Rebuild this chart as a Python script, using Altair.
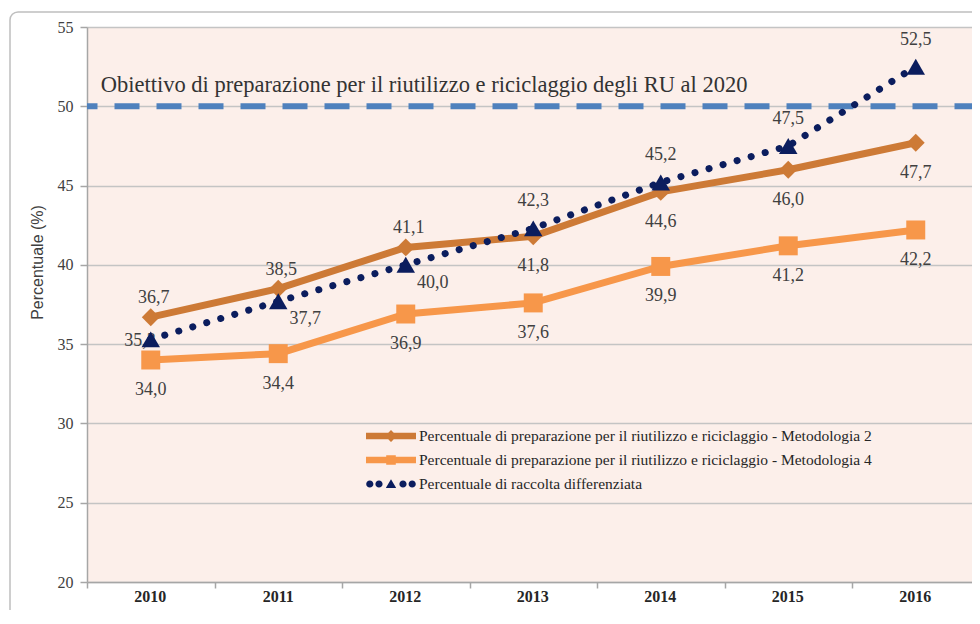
import altair as alt
import pandas as pd

years = ["2010", "2011", "2012", "2013", "2014", "2015", "2016"]
met2 = [36.7, 38.5, 41.1, 41.8, 44.6, 46.0, 47.7]
met4 = [34.0, 34.4, 36.9, 37.6, 39.9, 41.2, 42.2]
rd = [35.3, 37.7, 40.0, 42.3, 45.2, 47.5, 52.5]

series_names = [
    "Percentuale di preparazione per il riutilizzo e riciclaggio - Metodologia 2",
    "Percentuale di preparazione per il riutilizzo e riciclaggio - Metodologia 4",
    "Percentuale di raccolta differenziata",
]
target_value = 50
target_text = "Obiettivo di preparazione per il riutilizzo e riciclaggio degli RU al 2020"
y_title = "Percentuale (%)"

# label placement (which side of the marker)
met2_pos = ["above", "above", "above", "below", "below", "below", "below"]
met4_pos = ["below"] * 7
rd_pos = ["left", "rightbelow", "rightbelow", "above", "above", "above", "above"]

C_M2 = "#CD7A36"
C_M4 = "#F7974A"
C_RD = "#0B1D5E"
C_TGT = "#4F81BD"
BG = "#FCEFEA"
SERIF = "Liberation Serif"


def make_df(vals, pos, name):
    return pd.DataFrame({
        "year": years,
        "value": vals,
        "pos": pos,
        "series": name,
        "label": [f"{v:.1f}".replace(".", ",") for v in vals],
    })


df_m2 = make_df(met2, met2_pos, series_names[0])
df_m4 = make_df(met4, met4_pos, series_names[1])
df_rd = make_df(rd, rd_pos, series_names[2])
df_all = pd.concat([df_m2, df_m4, df_rd], ignore_index=True)

x_enc = alt.X(
    "year:N",
    sort=years,
    scale=alt.Scale(type="band", paddingInner=0, paddingOuter=0, domain=years),
    axis=alt.Axis(
        title=None, tickBand="extent", grid=False, labelAngle=0,
        labelFont=SERIF, labelFontSize=16, labelFontWeight="bold", labelColor="#262626",
        labelPadding=8, labelOffset=15, tickSize=6, tickColor="#A6A6A6", domainColor="#A6A6A6",
        tickWidth=1.5, domainWidth=1.5,
    ),
)
y_enc = alt.Y(
    "value:Q",
    scale=alt.Scale(domain=[20, 55], nice=False, zero=False),
    axis=alt.Axis(
        title=y_title, values=list(range(20, 56, 5)), grid=True,
        gridColor="#C4C4C4", gridWidth=1.5,
        labelFont=SERIF, labelFontSize=16, labelColor="#404040", labelPadding=7,
        tickSize=7, tickColor="#A6A6A6", domainColor="#A6A6A6", tickWidth=1.5, domainWidth=1.5,
        titleFont="Liberation Sans", titleFontSize=16, titleFontWeight="normal",
        titleColor="#404040", titleAngle=270, titleX=-50, titleY=235,
        titleAlign="center", titleBaseline="middle",
    ),
)

base_m2 = alt.Chart(df_m2).encode(x=x_enc, y=y_enc)
base_m4 = alt.Chart(df_m4).encode(x=x_enc, y=y_enc)
base_rd = alt.Chart(df_rd).encode(x=x_enc, y=y_enc)

line_m4 = base_m4.mark_line(color=C_M4, strokeWidth=7)
line_m2 = base_m2.mark_line(color=C_M2, strokeWidth=7)
line_rd = base_rd.mark_line(color=C_RD, strokeWidth=7, strokeDash=[0.1, 14.5], strokeCap="round")

pts_m2 = base_m2.mark_point(shape="diamond", filled=True, size=320, color=C_M2, opacity=1)
pts_m4 = base_m4.mark_point(shape="square", filled=True, size=360, color=C_M4, opacity=1)
pts_rd = base_rd.mark_point(shape="triangle-up", filled=True, size=340, color=C_RD, opacity=1)

offsets = {
    "above": dict(dx=3, dy=-19, align="center"),
    "below": dict(dx=0, dy=30, align="center"),
    "rdabove": dict(dx=0, dy=-27, align="center"),
    "rightbelow": dict(dx=27, dy=18, align="center"),
    "left": dict(dx=5, dy=2, align="right"),
}


def labels(base, pos_key, filt):
    o = offsets[pos_key]
    return base.transform_filter(alt.datum.pos == filt).mark_text(
        font=SERIF, fontSize=18, color="#404040", baseline="middle", **o
    ).encode(text="label:N")


lab_layers = [
    labels(base_m2, "above", "above"),
    labels(base_m2, "below", "below"),
    labels(base_m4, "below", "below"),
    labels(base_rd, "rdabove", "above"),
    labels(base_rd, "rightbelow", "rightbelow"),
    labels(base_rd, "left", "left"),
]

target_df = pd.DataFrame({"value": [target_value], "text": [target_text]})
target_rule = alt.Chart(target_df).mark_rule(
    color=C_TGT, strokeWidth=6, strokeDash=[25, 17]
).encode(y=alt.Y("value:Q"))
target_label = alt.Chart(target_df).mark_text(
    font=SERIF, fontSize=22.5, color="#333333", align="left", baseline="middle", dx=-50, dy=-21
).encode(x=alt.X("x:N"), y=alt.Y("value:Q"), text="text:N").transform_calculate(x="'2010'")

# legend (custom line+marker symbols)
P_M2 = ("M-3.125,-0.42 L3.125,-0.42 L3.125,0.42 L-3.125,0.42 Z "
        "M0,-0.75 L0.75,0 L0,0.75 L-0.75,0 Z")
P_M4 = ("M-3.125,-0.42 L3.125,-0.42 L3.125,0.42 L-3.125,0.42 Z "
        "M-0.6,-0.6 L0.6,-0.6 L0.6,0.6 L-0.6,0.6 Z")


def circ(cx, r=0.45):
    return f"M{cx - r},0 A{r},{r} 0 1,1 {cx + r},0 A{r},{r} 0 1,1 {cx - r},0 Z "


P_RD = (circ(-2.65) + circ(-1.5) + "M0,-0.6 L0.65,0.5 L-0.65,0.5 Z " + circ(1.5) + circ(2.65))

legend_layer = alt.Chart(df_all).transform_filter("false").mark_point(
    filled=True, opacity=1, size=256
).encode(
    x=x_enc, y=y_enc,
    color=alt.Color("series:N", scale=alt.Scale(domain=series_names, range=[C_M2, C_M4, C_RD]),
                    legend=alt.Legend(title=None)),
    shape=alt.Shape("series:N", scale=alt.Scale(domain=series_names, range=[P_M2, P_M4, P_RD]),
                    legend=alt.Legend(title=None)),
)

frame = alt.Chart(pd.DataFrame({"a": [0]})).mark_rect(
    fill=None, stroke="#BFBFBF", strokeWidth=1.5, cornerRadius=8
).encode(x=alt.value(-77), x2=alt.value(1100), y=alt.value(-15), y2=alt.value(800))

chart = alt.layer(
    target_rule, target_label,
    line_m4, line_m2, line_rd,
    *lab_layers,
    pts_m2, pts_m4, pts_rd,
    legend_layer,
    frame,
).properties(
    width=892.5, height=555,
    autosize=alt.AutoSizeParams(type="none"),
    padding={"left": 79, "top": 19, "right": -8, "bottom": 28},
).configure_view(
    fill=BG, stroke=None,
).configure_legend(
    orient="none", legendX=279, legendY=401,
    labelFont=SERIF, labelFontSize=15.5, labelColor="#262626", labelLimit=0,
    symbolStrokeWidth=0, symbolSize=256, symbolOffset=17, labelOffset=20,
    rowPadding=7, padding=0, fillColor=BG,
)

chart.save("out.html", embed_options={"renderer": "svg", "actions": False})
